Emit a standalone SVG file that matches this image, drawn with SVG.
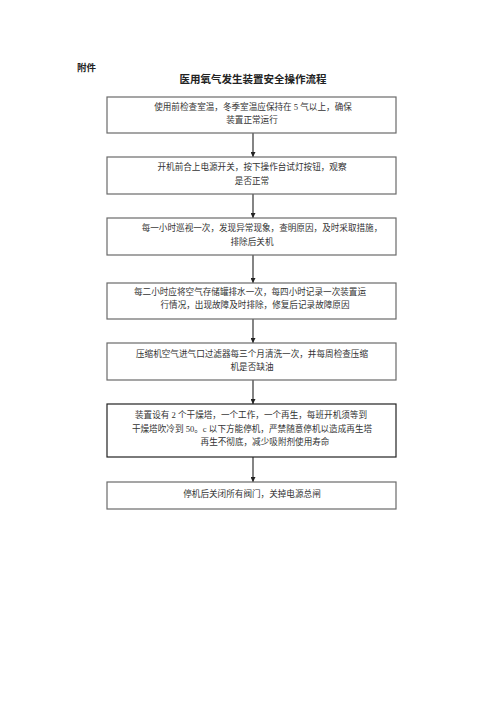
<svg xmlns="http://www.w3.org/2000/svg" width="500" height="707" viewBox="0 0 500 707">
<style>
.bg{fill:#fff}
.box rect{fill:#fff;stroke:#6a6a6a;stroke-width:1.2}
.box.dark rect{stroke:#222}
.t{font-family:"Liberation Serif","Noto Sans CJK SC",serif;font-size:8.6px;fill:#333}
.h{font-family:"Liberation Sans","Noto Sans CJK SC",sans-serif;font-weight:bold;fill:#222}
#connectors line{stroke:#333;stroke-width:1.2}
</style>
<defs>
<marker id="ah" viewBox="0 0 10 10" refX="10" refY="5" markerWidth="5" markerHeight="5" orient="auto" markerUnits="userSpaceOnUse">
<path d="M0,0 L10,5 L0,10 z" fill="#222"/>
</marker>
</defs>
<rect class="bg" x="0" y="0" width="500" height="707"/>
<text class="h" x="77" y="71" font-size="9.5">附件</text>
<text class="h" x="253" y="83" font-size="10.5" text-anchor="middle">医用氧气发生装置安全操作流程</text>

<g id="connectors">
<line x1="253" y1="133" x2="253" y2="157" marker-end="url(#ah)"/>
<line x1="253" y1="194" x2="253" y2="218" marker-end="url(#ah)"/>
<line x1="253" y1="255" x2="253" y2="283" marker-end="url(#ah)"/>
<line x1="253" y1="319" x2="253" y2="343" marker-end="url(#ah)"/>
<line x1="253" y1="380" x2="253" y2="404" marker-end="url(#ah)"/>
<line x1="253" y1="457" x2="253" y2="482" marker-end="url(#ah)"/>
</g>

<g id="n1" class="box">
<rect x="107" y="97" width="289" height="36"/>
<text class="t" x="253" y="110" text-anchor="middle">使用前检查室温，冬季室温应保持在 5 气以上，确保</text>
<text class="t" x="252" y="123" text-anchor="middle">装置正常运行</text>
</g>
<g id="n2" class="box">
<rect x="107" y="157" width="289" height="37"/>
<text class="t" x="252" y="170" text-anchor="middle">开机前合上电源开关，按下操作台试灯按钮，观察</text>
<text class="t" x="252" y="184" text-anchor="middle">是否正常</text>
</g>
<g id="n3" class="box">
<rect x="107" y="218" width="289" height="37"/>
<text class="t" x="262" y="231" text-anchor="middle">每一小时巡视一次，发现异常现象，查明原因，及时采取措施，</text>
<text class="t" x="252" y="245" text-anchor="middle">排除后关机</text>
</g>
<g id="n4" class="box">
<rect x="107" y="283" width="289" height="36"/>
<text class="t" x="250" y="295" text-anchor="middle">每二小时应将空气存储罐排水一次，每四小时记录一次装置运</text>
<text class="t" x="255" y="308" text-anchor="middle">行情况，出现故障及时排除，修复后记录故障原因</text>
</g>
<g id="n5" class="box">
<rect x="107" y="343" width="289" height="37"/>
<text class="t" x="252" y="357" text-anchor="middle">压缩机空气进气口过滤器每三个月清洗一次，并每周检查压缩</text>
<text class="t" x="252" y="370" text-anchor="middle">机是否缺油</text>
</g>
<g id="n6" class="box dark">
<rect x="107" y="404" width="289" height="53"/>
<text class="t" x="251" y="418" text-anchor="middle">装置设有 2 个干燥塔，一个工作，一个再生，每班开机须等到</text>
<text class="t" x="252" y="432" text-anchor="middle">干燥塔吹冷到 50。c 以下方能停机，严禁随意停机以造成再生塔</text>
<text class="t" x="265" y="445" text-anchor="middle">再生不彻底，减少吸附剂使用寿命</text>
</g>
<g id="n7" class="box">
<rect x="107" y="482" width="289" height="27"/>
<text class="t" x="252" y="497" text-anchor="middle">停机后关闭所有阀门，关掉电源总闸</text>
</g>
</svg>
